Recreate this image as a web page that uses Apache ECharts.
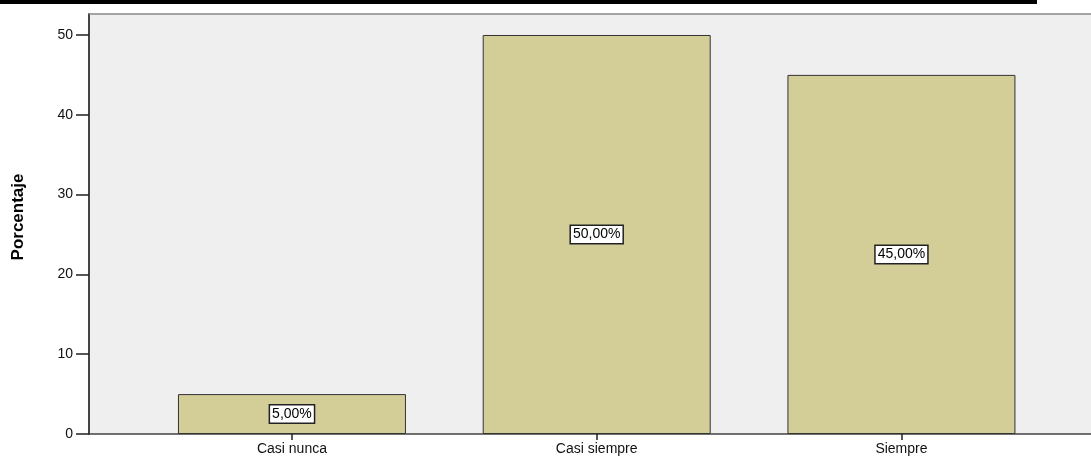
<!DOCTYPE html>
<html>
<head>
<meta charset="utf-8">
<script src="https://cdn.jsdelivr.net/npm/echarts@6/dist/echarts.min.js"></script>
<style>
html,body{margin:0;padding:0;background:#fff;}
#c{width:1091px;height:459px;}
</style>
</head>
<body>
<div id="c"></div>
<script>
var categories = ['Casi nunca', 'Casi siempre', 'Siempre'];
var values = [5, 50, 45];
var yTicks = [0, 10, 20, 30, 40, 50];
var yName = 'Porcentaje';

var chart = echarts.init(document.getElementById('c'), null, {renderer: 'canvas'});
var font = 'Liberation Sans, Arial, sans-serif';

var option = {
  animation: false,
  backgroundColor: '#ffffff',
  graphic: [
    {type: 'rect', left: 0, top: 0, shape: {width: 1037, height: 4}, style: {fill: '#000'}, z: 100},
    {type: 'line', shape: {x1: 89, y1: 14, x2: 1091, y2: 14}, style: {stroke: '#888', lineWidth: 1.5}, z: 50}
  ],
  grid: {
    left: 89, right: 0, top: 14, bottom: 25,
    show: true, backgroundColor: '#efefef', borderWidth: 0
  },
  xAxis: {
    type: 'value',
    min: -0.666, max: 2.622,
    splitLine: {show: false},
    axisLine: {show: true, onZero: false, lineStyle: {color: '#444', width: 1.5}},
    axisTick: {show: true, length: 6, customValues: [0, 1, 2], lineStyle: {color: '#222', width: 1.5}},
    axisLabel: {
      customValues: [0, 1, 2],
      formatter: function (v) { return categories[Math.round(v)] || ''; },
      color: '#111', fontFamily: font, fontSize: 14, margin: 8
    }
  },
  yAxis: {
    type: 'value',
    min: 0, max: 52.63,
    name: yName,
    nameLocation: 'middle',
    nameGap: 62,
    nameRotate: 90,
    nameTextStyle: {fontFamily: 'Liberation Sans Narrow, Liberation Sans, Arial', fontWeight: 'bold', fontSize: 17, color: '#000', padding: [0, 0, 0, 14]},
    splitLine: {show: false},
    axisLine: {show: true, onZero: false, lineStyle: {color: '#444', width: 2}},
    axisTick: {show: true, length: 13, customValues: yTicks, lineStyle: {color: '#222', width: 1.5}},
    axisLabel: {
      customValues: yTicks,
      color: '#111', fontFamily: font, fontSize: 14, margin: 16
    }
  },
  series: [{
    type: 'bar',
    data: values.map(function (v, i) { return [i, v]; }),
    barWidth: 228,
    itemStyle: {color: '#d3ce98', borderColor: '#333', borderWidth: 1},
    label: {
      show: true,
      position: 'inside',
      formatter: function (p) { return p.value[1].toFixed(2).replace('.', ',') + '%'; },
      color: '#000', fontFamily: font, fontSize: 14,
      backgroundColor: '#ffffff', borderColor: '#222', borderWidth: 1.5,
      padding: [2, 2, 1, 2]
    }
  }]
};
chart.setOption(option);
</script>
</body>
</html>
